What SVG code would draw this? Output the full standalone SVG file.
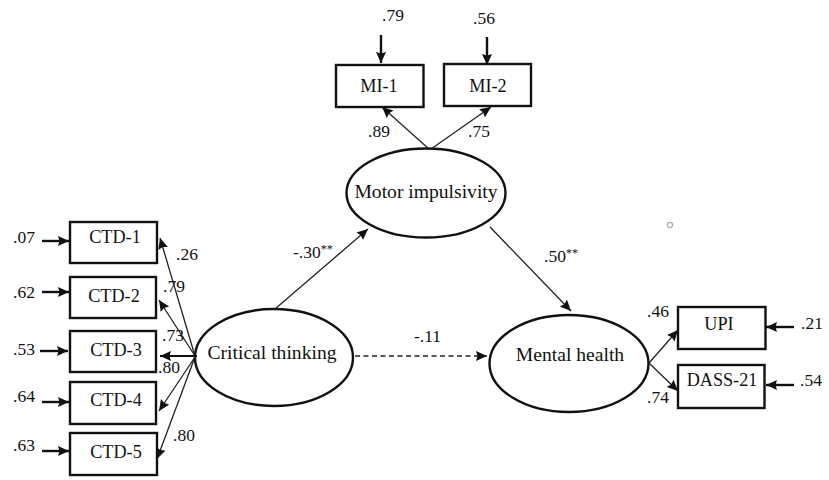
<svg xmlns="http://www.w3.org/2000/svg" width="829" height="480" viewBox="0 0 829 480">
<style>
text{font-family:"Liberation Serif","Times New Roman",serif;font-size:17.5px;fill:#111}
.m{text-anchor:middle}
.n{font-size:18.2px}
.l{font-size:19.6px}
.b{fill:#fff;stroke:#111;stroke-width:2.4}
.e{fill:#fff;stroke:#111;stroke-width:2.4}
.c{fill:none;stroke:#222;stroke-width:1.3}
.h{fill:none;stroke:#111;stroke-width:2.4}
</style>
<defs>
<marker id="a" markerUnits="userSpaceOnUse" markerWidth="14" markerHeight="12" refX="11" refY="5" orient="auto"><path d="M0 0L11 5L0 10L1.5 5Z" fill="#111"/></marker>
</defs>
<rect width="829" height="480" fill="#fff"/>
<g id="ctd1"><rect class="b" x="70" y="222" width="87" height="41"/><text class="m n" x="115" y="243">CTD-1</text></g>
<g id="ctd2"><rect class="b" x="70" y="277" width="86" height="41"/><text class="m n" x="114" y="302">CTD-2</text></g>
<g id="ctd3"><rect class="b" x="70" y="331" width="86" height="41"/><text class="m n" x="116" y="356">CTD-3</text></g>
<g id="ctd4"><rect class="b" x="70" y="382" width="86" height="42"/><text class="m n" x="116" y="406">CTD-4</text></g>
<g id="ctd5"><rect class="b" x="70" y="433" width="87" height="42"/><text class="m n" x="116" y="458">CTD-5</text></g>
<g id="mi1"><rect class="b" x="336" y="65" width="87.500" height="42"/><text class="m n" x="379" y="92">MI-1</text></g>
<g id="mi2"><rect class="b" x="444" y="64" width="87" height="42"/><text class="m n" x="488" y="92">MI-2</text></g>
<g id="upi"><rect class="b" x="678" y="307" width="87.500" height="42"/><text class="m n" x="719" y="330">UPI</text></g>
<g id="dass"><rect class="b" x="678" y="365" width="86.500" height="43"/><text class="m n" x="722" y="386">DASS-21</text></g>
<g id="critical"><ellipse class="e" cx="274" cy="357.500" rx="79" ry="48.500"/><text class="m l" x="272" y="359">Critical thinking</text></g>
<g id="motor"><ellipse class="e" cx="426" cy="193" rx="79.500" ry="44.500"/><text class="m l" x="426" y="198">Motor impulsivity</text></g>
<g id="mental"><ellipse class="e" cx="569" cy="363.500" rx="79.500" ry="48.500"/><text class="m l" x="570" y="361">Mental health</text></g>
<g id="connectors">
<path class="c" marker-end="url(#a)" d="M195 356L160 238"/>
<path class="c" marker-end="url(#a)" d="M195 356L159 300"/>
<path class="h" marker-end="url(#a)" style="stroke-width:1.800" d="M197 356L160 356"/>
<path class="c" marker-end="url(#a)" d="M195 357L159 411"/>
<path class="c" marker-end="url(#a)" d="M195 357L157 459"/>
<path class="c" marker-end="url(#a)" d="M429 149L382 107"/>
<path class="c" marker-end="url(#a)" d="M431 149L491 107"/>
<path class="c" marker-end="url(#a)" d="M275 309L368 229"/>
<path class="c" marker-end="url(#a)" d="M490 227L571 311"/>
<path class="c" style="stroke-width:1.500" stroke-dasharray="5 3.500" marker-end="url(#a)" d="M355 356L487 356"/>
<path class="c" marker-end="url(#a)" d="M649 363L678 330"/>
<path class="c" marker-end="url(#a)" d="M649 363L678 391"/>
<path class="h" marker-end="url(#a)" d="M42 241L69 241"/>
<path class="h" marker-end="url(#a)" d="M42 292L69 292"/>
<path class="h" marker-end="url(#a)" d="M40 351L68 351"/>
<path class="h" marker-end="url(#a)" d="M42 402L69 402"/>
<path class="h" marker-end="url(#a)" d="M42 451L69 451"/>
<path class="h" marker-end="url(#a)" d="M381 35L381 63"/>
<path class="h" marker-end="url(#a)" d="M487 37L487 65"/>
<path class="h" marker-end="url(#a)" d="M794 327L766 327"/>
<path class="h" marker-end="url(#a)" d="M794 385L766 385"/>
</g>
<g id="labels">
<text x="13" y="243">.07</text><text x="13" y="298">.62</text><text x="13" y="355">.53</text><text x="13" y="402">.64</text><text x="13" y="451">.63</text>
<text x="176" y="260">.26</text><text x="163" y="292">.79</text><text x="162" y="341">.73</text><text x="158" y="373">.80</text><text x="173" y="441">.80</text>
<text x="382" y="21">.79</text><text x="473" y="24">.56</text><text x="368" y="137">.89</text><text x="468" y="137">.75</text>
<text x="293" y="258">-.30<tspan font-size="12" dy="-5">**</tspan></text>
<text x="544" y="262">.50<tspan font-size="12" dy="-5">**</tspan></text>
<text x="414" y="342">-.11</text>
<text x="647" y="317">.46</text><text x="647" y="403">.74</text><text x="801" y="329">.21</text><text x="800" y="386">.54</text>
</g>
<circle cx="670" cy="225" r="2.6" fill="#fff" stroke="#aaa" stroke-width="1.1"/>
</svg>
